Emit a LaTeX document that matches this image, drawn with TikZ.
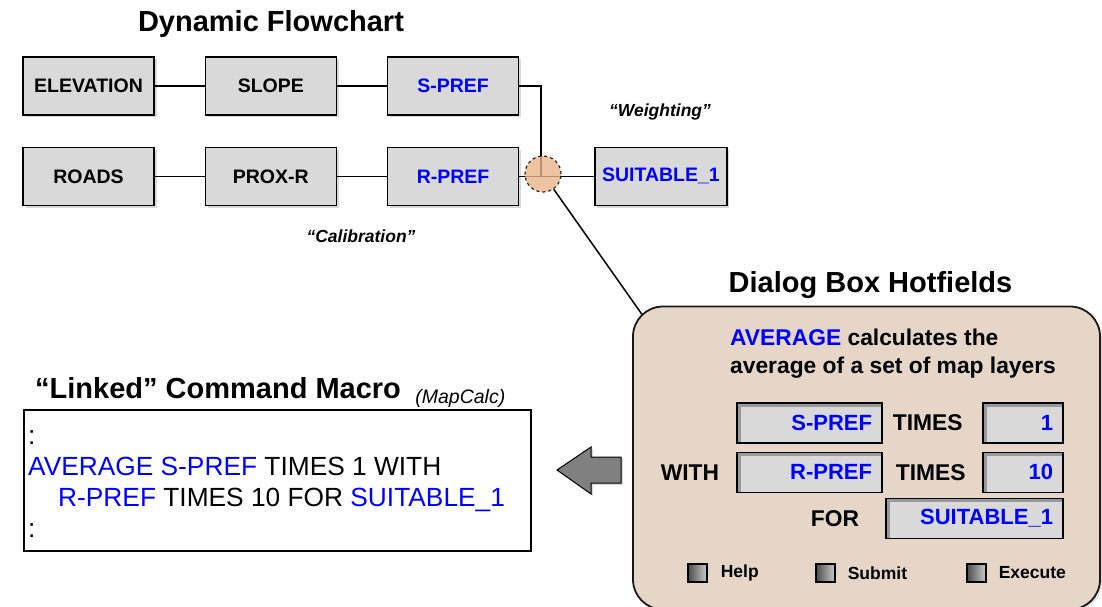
\documentclass[tikz,border=0pt]{standalone}
\usepackage{fontspec}
\setmainfont{Liberation Sans}
\usetikzlibrary{positioning,calc,shadows}
\definecolor{boxgray}{RGB}{217,217,217}
\definecolor{dlgtan}{RGB}{229,214,200}
\definecolor{juncpeach}{RGB}{232,180,138}
\definecolor{cmdblue}{RGB}{0,0,255}
\definecolor{arrowgray}{RGB}{128,128,128}
\newcommand{\fsize}[2]{\fontsize{#1}{#2}\selectfont}
\tikzset{
  flowbox/.style={draw=black, line width=1.3pt, fill=boxgray, minimum width=131pt, minimum height=58pt, inner sep=2pt, font=\bfseries\fsize{19.5pt}{22pt}, drop shadow={shadow xshift=2.5pt, shadow yshift=-2.5pt, opacity=.3}},
  link/.style={line width=1.5pt},
  heading/.style={font=\bfseries\fsize{29pt}{32pt}, inner sep=0pt},
  note/.style={font=\bfseries\itshape\fsize{17.5pt}{20pt}, inner sep=0pt},
  dlgbox/.style={draw=black!90, line width=1.8pt, fill=dlgtan, rounded corners=30pt, minimum width=467pt, minimum height=303pt, drop shadow={shadow xshift=2pt, shadow yshift=-2pt, opacity=.25}},
  field/.style={draw=black, line width=1.4pt, fill=boxgray, minimum height=40pt, inner xsep=10pt, inner ysep=0pt, text width=#1, align=right, text=cmdblue, font=\bfseries\fsize{22pt}{26pt},
    path picture={\draw[black!40, line width=7pt] (path picture bounding box.south west) |- (path picture bounding box.north east);}},
  dlgtext/.style={font=\bfseries\fsize{22.8pt}{28pt}, inner sep=0pt},
  chk/.style={draw=black, line width=1.2pt, minimum width=19pt, minimum height=18pt, inner sep=0pt, left color=black!70, right color=black!20},
  chklabel/.style={font=\bfseries\fsize{17.5pt}{20pt}, inner sep=0pt},
  cmdtext/.style={font=\fsize{26.3pt}{31pt}, align=left, inner sep=0pt}
}
\begin{document}
\begin{tikzpicture}[x=1pt, y=-1pt]
\useasboundingbox (0,0) rectangle (1102,607);

% flowchart
\node[heading, anchor=base] (flowtitle) at (271,32) {Dynamic Flowchart};
\node[flowbox] (elev) at (88.5,86) {ELEVATION};
\node[flowbox, right=50pt of elev] (slope) {SLOPE};
\node[flowbox, right=50pt of slope, text=cmdblue] (spref) {S-PREF};
\node[flowbox, below=31pt of elev] (roads) {ROADS};
\node[flowbox, right=50pt of roads] (proxr) {PROX-R};
\node[flowbox, right=50pt of proxr, text=cmdblue] (rpref) {R-PREF};
\node[flowbox, minimum width=132pt, right=75pt of rpref, text=cmdblue] (suit) {SUITABLE\_1};
\node[note] (weight) at (660,112) {``Weighting''};
\node[note] (calib) at (361,236) {``Calibration''};
\coordinate (jn) at (541,176.5);

\draw[link] (elev) -- (slope);
\draw[link] (slope) -- (spref);
\draw[link] (roads) -- (proxr);
\draw[link] (proxr) -- (rpref);
\draw[link] (rpref) -- (suit);
\draw[link] (spref) -| (jn);
\node[circle, draw=black!85, dashed, line width=1.2pt, fill=juncpeach, fill opacity=.8, minimum size=36pt, inner sep=0pt] (jcirc) at (543,174) {};

% dialog box
\node[heading, anchor=base] (dlgtitle) at (870.5,292) {Dialog Box Hotfields};
\node[dlgbox] (dlg) at (866.5,458) {};
\draw[link] (jcirc) -- ($(dlg.north west)+(10,9)$);
\node[dlgtext, align=left, anchor=north west] (desc) at (730,329) {\textcolor{cmdblue}{AVERAGE} calculates the\\average of a set of map layers};
\node[field=125pt] (sfield) at (809.5,423) {S-PREF};
\node[dlgtext, right=10pt of sfield] (times1) {TIMES};
\node[field=60pt] (onebox) at (1023,423) {1};
\node[field=125pt, below=8pt of sfield] (rfield) {R-PREF};
\node[dlgtext, left=17pt of rfield] (with) {WITH};
\node[dlgtext, right=13pt of rfield] (times2) {TIMES};
\node[field=60pt, below=8pt of onebox] (tenbox) {10};
\node[field=157pt] (sfor) at (974.5,518.5) {SUITABLE\_1};
\node[dlgtext, left=26pt of sfor] (for) {FOR};
\node[chk] (chkhelp) at (697.5,573) {};
\node[chklabel, right=13pt of chkhelp] (help) {Help};
\node[chk] (chksub) at (825.5,573) {};
\node[chklabel, right=12pt of chksub] (submit) {Submit};
\node[chk] (chkexe) at (976.5,573) {};
\node[chklabel, right=12pt of chkexe] (exec) {Execute};

% command macro
\node[heading, anchor=base west] (cmdtitle) at (35,398) {``Linked'' Command Macro};
\node[font=\itshape\fsize{19.5pt}{22pt}, inner sep=0pt, anchor=base west, right=14pt of cmdtitle.base east] (mapcalc) {(MapCalc)};
\node[draw=black, line width=1.2pt, minimum width=507pt, minimum height=141pt] (cmdbox) at (277.5,480.5) {};
\node[cmdtext, anchor=north west] (cmd) at (28,425) {\rule{0pt}{19pt}:\\
  \textcolor{cmdblue}{AVERAGE S-PREF} TIMES 1 WITH\\
  \hspace*{30pt}\textcolor{cmdblue}{R-PREF} TIMES 10 FOR \textcolor{cmdblue}{SUITABLE\_1}\\
  :};
\draw[fill=arrowgray, line width=1pt, drop shadow={shadow xshift=2pt, shadow yshift=-2pt, opacity=.3}]
  (557,470) -- (591,447) -- (591,457) -- (621,457) -- (621,483) -- (591,483) -- (591,494) -- cycle;
\end{tikzpicture}
\end{document}
